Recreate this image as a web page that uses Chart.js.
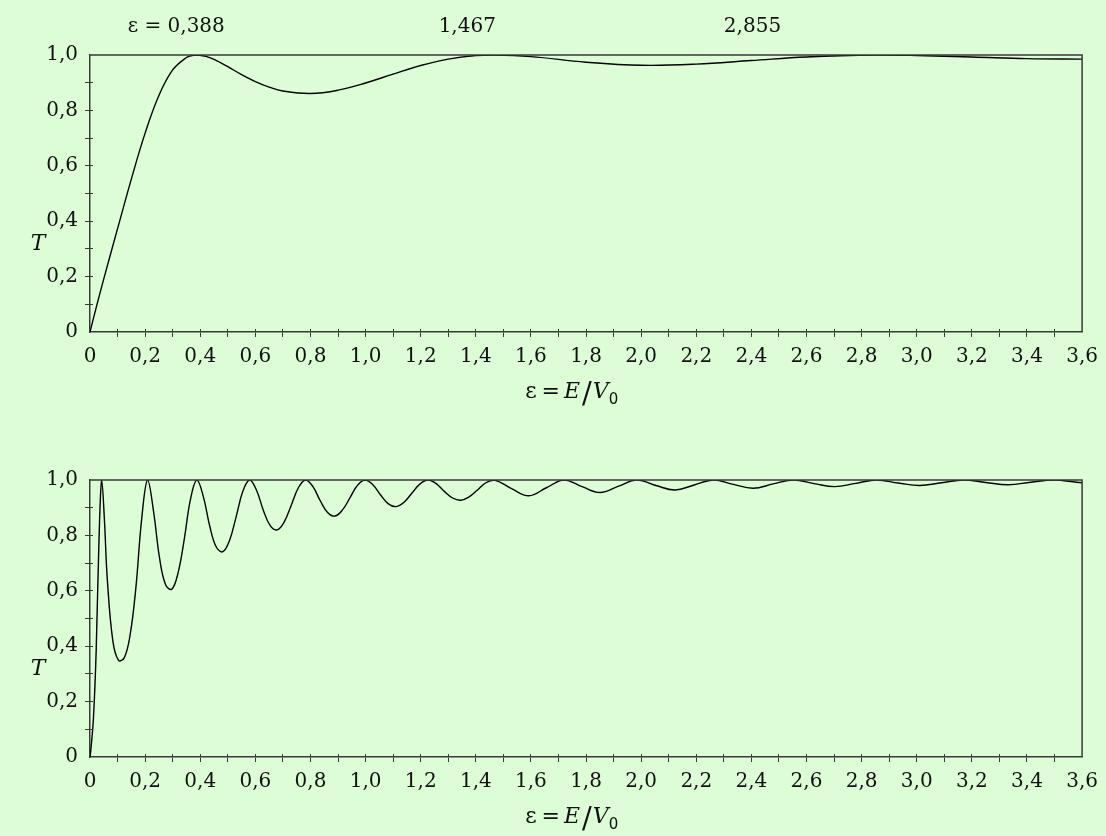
<!DOCTYPE html>
<html>
<head>
<meta charset="utf-8">
<script src="https://cdn.jsdelivr.net/npm/chart.js@4.4.1/dist/chart.umd.min.js"></script>
<style>
  body { margin: 0; background: #ddfdd7; width: 1106px; height: 836px; overflow: hidden; position: relative; }
  canvas { position: absolute; left: 0; }
  #topChart { top: 0; }
  #bottomChart { top: 425px; }
</style>
</head>
<body>
<canvas id="topChart" width="1106" height="411"></canvas>
<canvas id="bottomChart" width="1106" height="411"></canvas>
<script>
// upper panel: wide well, few resonances
const topEps = [0, 0.025, 0.05, 0.1, 0.15, 0.2, 0.25, 0.3, 0.35, 0.37, 0.388, 0.42, 0.45, 0.5, 0.55, 0.6, 0.65, 0.7, 0.8, 0.9,
    1.0, 1.1, 1.2, 1.3, 1.4, 1.467, 1.6, 1.8, 2.0, 2.2, 2.4, 2.6, 2.855, 3.0, 3.2, 3.4, 3.6];
const topT = [0, 0.098, 0.192, 0.373, 0.552, 0.718, 0.854, 0.946, 0.991, 0.998, 1, 0.995, 0.984, 0.958, 0.929, 0.904, 0.884, 0.870, 0.861, 0.873,
    0.899, 0.931, 0.962, 0.985, 0.998, 1, 0.994, 0.974, 0.963, 0.967, 0.980, 0.993, 1, 0.998, 0.993, 0.987, 0.985];

// lower panel: many resonances
const botEps = [0, 0.0028, 0.0126, 0.0225, 0.0325, 0.0425, 0.0525, 0.0626, 0.0830, 0.1035, 0.1242, 0.1451, 0.1662, 0.1875,
    0.2090, 0.2307, 0.2526, 0.2747, 0.2969, 0.3194, 0.3420, 0.3649,
    0.3879, 0.4111, 0.4346, 0.4582, 0.4820, 0.5060, 0.5302, 0.5546,
    0.5791, 0.6039, 0.6289, 0.6540, 0.6794, 0.7049, 0.7307, 0.7566,
    0.7827, 0.8090, 0.8355, 0.8622, 0.8891, 0.9162, 0.9435, 0.9709,
    0.9986, 1.0264, 1.0545, 1.0827, 1.1112, 1.1398, 1.1686, 1.1976,
    1.2268, 1.2562, 1.2858, 1.3156, 1.3456, 1.3757, 1.4061, 1.4367,
    1.4674, 1.5295, 1.5923, 1.6559, 1.7203, 1.7855, 1.8514, 1.9181,
    1.9856, 2.0538, 2.1228, 2.1926, 2.2631, 2.3345, 2.4066, 2.4794,
    2.5531, 2.6275, 2.7026, 2.7786, 2.8553, 2.9328, 3.0111, 3.0901,
    3.1699, 3.2505, 3.3318, 3.4139, 3.4968, 3.5805, 3.6];
const botT = [0, 0.022, 0.142, 0.386, 0.779, 1, 0.853, 0.645, 0.418, 0.349, 0.358, 0.438, 0.608, 0.859,
    1, 0.886, 0.717, 0.621, 0.606, 0.664, 0.786, 0.932,
    1, 0.941, 0.833, 0.758, 0.741, 0.781, 0.867, 0.959,
    1, 0.964, 0.891, 0.835, 0.820, 0.849, 0.910, 0.973,
    1, 0.976, 0.925, 0.883, 0.870, 0.892, 0.936, 0.981,
    1, 0.983, 0.946, 0.914, 0.904, 0.920, 0.953, 0.986,
    1, 0.987, 0.959, 0.935, 0.927, 0.939, 0.964, 0.990,
    1, 0.969, 0.943, 0.972, 1, 0.976, 0.955, 0.978,
    1, 0.980, 0.964, 0.982, 1, 0.984, 0.970, 0.986,
    1, 0.987, 0.976, 0.988, 1, 0.989, 0.980, 0.990,
    1, 0.991, 0.983, 0.992, 1, 0.992, 0.990];

// resonance labels over the upper panel
const peakText = ['\u03b5 = 0,388', '1,467', '2,855'];
const peakTextAt = [0.313, 1.369, 2.404];

const X_MAX = 3.6;
const axisColor = '#3a3a3a';
const serif = '"DejaVu Serif", serif';

function fmt(v) {
    const k = Math.round(v * 10);
    if (k % 2) return '';
    return k === 0 ? '0' : (k / 10).toFixed(1).replace('.', ',');
}

function isEnd(v, max) {
    return v <= 1e-9 || v >= max - 1e-9;
}

function align(px) {
    return Math.round(px - 0.5) + 0.5;
}

// draws "ε = E / V0" centred on cx
function axisTitle(ctx, cx, base) {
    const parts = [
        { t: '\u03b5', f: '22px ' + serif, dy: 0, gap: 0 },
        { t: '=', f: '22px ' + serif, dy: 0, gap: 5 },
        { t: 'E', f: 'italic 22px ' + serif, dy: 0, gap: 4 },
        { t: '/', f: '29px ' + serif, dy: 5, gap: 2 },
        { t: 'V', f: 'italic 22px ' + serif, dy: 0, gap: 1 },
        { t: '0', f: '15px "DejaVu Sans", sans-serif', dy: 6, gap: 0 }
    ];
    let total = 0;
    parts.forEach(p => { ctx.font = p.f; p.w = ctx.measureText(p.t).width; total += p.gap + p.w; });
    let x0 = cx - total / 2;
    ctx.textAlign = 'left';
    ctx.textBaseline = 'alphabetic';
    parts.forEach(p => {
        x0 += p.gap;
        ctx.font = p.f;
        ctx.fillText(p.t, x0, base + p.dy);
        x0 += p.w;
    });
}

const extras = {
    id: 'extras',
    afterDraw(chart, args, opts) {
        const { ctx, chartArea: a, scales: { x, y } } = chart;
        ctx.save();
        // top and right sides of the frame
        ctx.strokeStyle = axisColor;
        ctx.lineWidth = 1.5;
        ctx.beginPath();
        ctx.moveTo(a.left, a.top);
        ctx.lineTo(a.right, a.top);
        ctx.lineTo(a.right, a.bottom);
        ctx.stroke();
        // inner part of the crossing ticks
        ctx.lineWidth = 1;
        ctx.beginPath();
        x.ticks.forEach(t => {
            if (isEnd(t.value, X_MAX)) return;
            const px = align(x.getPixelForValue(t.value));
            ctx.moveTo(px, a.bottom);
            ctx.lineTo(px, a.bottom - 3);
        });
        y.ticks.forEach(t => {
            if (isEnd(t.value, 1)) return;
            const py = align(y.getPixelForValue(t.value));
            ctx.moveTo(a.left, py);
            ctx.lineTo(a.left + 3, py);
        });
        ctx.stroke();

        ctx.fillStyle = '#111';
        // T label
        ctx.font = 'italic 22px ' + serif;
        ctx.textAlign = 'center';
        ctx.textBaseline = 'middle';
        ctx.fillText('T', 38, y.getPixelForValue(0.315));

        axisTitle(ctx, x.getPixelForValue(1.748), a.bottom + 66);

        if (opts.peaks) {
            ctx.font = '20px ' + serif;
            ctx.textAlign = 'center';
            ctx.textBaseline = 'alphabetic';
            peakText.forEach((t, i) => ctx.fillText(t, x.getPixelForValue(peakTextAt[i]), 32));
        }
        ctx.restore();
    }
};

function tickColor(max) {
    return c => (c.tick && isEnd(c.tick.value, max)) ? 'rgba(0,0,0,0)' : axisColor;
}

function makeChart(canvasId, xs, ys, showPeaks) {
    const points = xs.map((e, i) => ({ x: e, y: ys[i] }));
    return new Chart(document.getElementById(canvasId), {
        type: 'line',
        data: {
            datasets: [{
                data: points,
                borderColor: '#000',
                borderWidth: 1.4,
                pointRadius: 0,
                fill: false,
                tension: 0.4
            }]
        },
        options: {
            responsive: false,
            animation: false,
            events: [],
            layout: { padding: { top: 55, right: 17, left: 0, bottom: 0 } },
            plugins: {
                legend: { display: false },
                tooltip: { enabled: false },
                extras: { peaks: showPeaks }
            },
            scales: {
                x: {
                    type: 'linear',
                    min: 0,
                    max: X_MAX,
                    afterFit: s => { s.height = 79; },
                    border: { color: axisColor, width: 1.5 },
                    grid: { drawOnChartArea: false, tickLength: 5, color: tickColor(X_MAX) },
                    ticks: {
                        stepSize: 0.1,
                        autoSkip: false,
                        maxRotation: 0,
                        padding: 8,
                        color: '#111',
                        font: { family: serif, size: 20 },
                        callback: v => fmt(v)
                    }
                },
                y: {
                    min: 0,
                    max: 1,
                    afterFit: s => { s.width = 90; },
                    border: { color: axisColor, width: 1.5 },
                    grid: { drawOnChartArea: false, tickLength: 5, color: tickColor(1) },
                    ticks: {
                        stepSize: 0.1,
                        autoSkip: false,
                        padding: 7,
                        color: '#111',
                        font: { family: serif, size: 20 },
                        callback: v => fmt(v)
                    }
                }
            }
        },
        plugins: [extras]
    });
}

makeChart('topChart', topEps, topT, true);
makeChart('bottomChart', botEps, botT, false);
</script>
</body>
</html>
